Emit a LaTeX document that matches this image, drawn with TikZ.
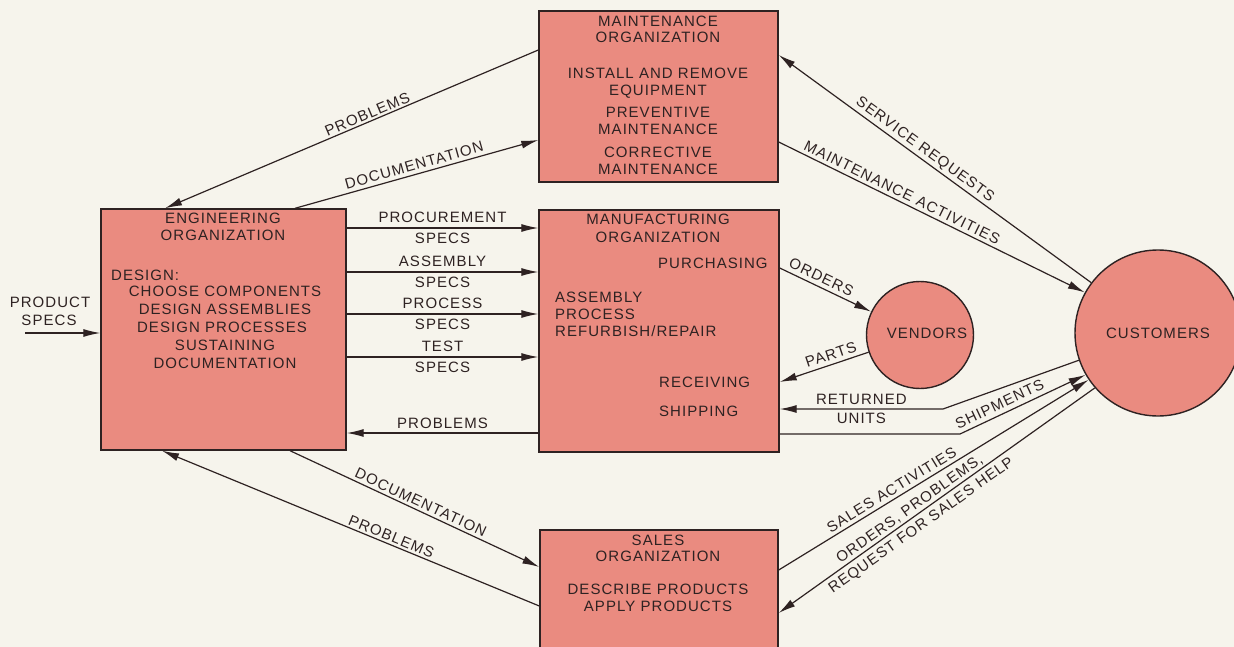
\documentclass[tikz,border=0pt]{standalone}
\usepackage{fontspec}
\setmainfont{Liberation Sans}[LetterSpace=7]
\usetikzlibrary{arrows.meta,calc}
\definecolor{bg}{HTML}{F6F4EC}
\definecolor{boxfill}{HTML}{EA8B80}
\definecolor{ink}{HTML}{2E2222}
\begin{document}
\begin{tikzpicture}[x=1pt,y=-1pt,
  box/.style={draw=ink,line width=1.4pt,fill=boxfill,inner sep=0pt},
  circ/.style={circle,draw=ink,line width=1.4pt,fill=boxfill,inner sep=0pt},
  txt/.style={text=ink,font=\fontsize{15}{18}\selectfont,inner sep=0pt,text height=10.7pt,text depth=0pt},
  lbl/.style={txt,sloped},
  arr/.style={draw=ink,line width=1.2pt,-{Latex[length=17pt,width=8pt]}},
  ln/.style={draw=ink,line width=1.2pt}]
\clip (0,0) rectangle (1234,647);
\fill[bg] (0,0) rectangle (1234,647);

% boxes
\node[box,minimum width=239pt,minimum height=171pt] (maint) at (658.5,96.5) {};
\node[box,minimum width=245pt,minimum height=241pt] (eng) at (223.5,329.5) {};
\node[box,minimum width=240pt,minimum height=242pt] (manu) at (659,331) {};
\node[box,minimum width=238pt,minimum height=150pt] (sales) at (659,605) {};
\node[circ,minimum size=107pt] (vend) at (920,335) {};
\node[circ,minimum size=166pt,txt] (cust) at (1158,333) {CUSTOMERS};

% maintenance text
\node[txt] (mt1) at (658,21) {MAINTENANCE};
\node[txt] (mt2) at (658,37) {ORGANIZATION};
\node[txt] (mt3) at (658,73) {INSTALL AND REMOVE};
\node[txt] (mt4) at (658,90) {EQUIPMENT};
\node[txt] (mt5) at (658,112) {PREVENTIVE};
\node[txt] (mt6) at (658,129) {MAINTENANCE};
\node[txt] (mt7) at (658,152) {CORRECTIVE};
\node[txt] (mt8) at (658,169) {MAINTENANCE};

% engineering text
\node[txt] (et1) at (223,218) {ENGINEERING};
\node[txt] (et2) at (223,235) {ORGANIZATION};
\node[txt,anchor=west] (et3) at (111,275) {DESIGN:};
\node[txt] (et4) at (225,291) {CHOOSE COMPONENTS};
\node[txt] (et5) at (225,309) {DESIGN ASSEMBLIES};
\node[txt] (et6) at (222,327) {DESIGN PROCESSES};
\node[txt] (et7) at (225,345) {SUSTAINING};
\node[txt] (et8) at (225,363) {DOCUMENTATION};

% manufacturing text
\node[txt] (ft1) at (658,219) {MANUFACTURING};
\node[txt] (ft2) at (658,237) {ORGANIZATION};
\node[txt,anchor=west] (ft3) at (658,263) {PURCHASING};
\node[txt,anchor=west] (ft4) at (555,297) {ASSEMBLY};
\node[txt,anchor=west] (ft5) at (555,314) {PROCESS};
\node[txt,anchor=west] (ft6) at (555,331) {REFURBISH/REPAIR};
\node[txt,anchor=west] (ft7) at (659,382) {RECEIVING};
\node[txt,anchor=west] (ft8) at (659,411) {SHIPPING};

% sales text
\node[txt] (st1) at (658,540) {SALES};
\node[txt] (st2) at (658,556) {ORGANIZATION};
\node[txt] (st3) at (658,589) {DESCRIBE PRODUCTS};
\node[txt] (st4) at (658,606) {APPLY PRODUCTS};

% vendors text
\node[txt] (vt) at (927,333) {VENDORS};

% product specs
\coordinate (ps) at (25,333);
\node[txt] (pst1) at (50,302) {PRODUCT};
\node[txt] (pst2) at (49,320) {SPECS};
\draw[arr] (ps) -- (eng.west |- ps);

% engineering <-> maintenance
\draw[arr] (maint.west |- 0,50) -- node[lbl,above=2pt,pos=0.45]{PROBLEMS} (eng.north -| 165,0);
\draw[arr] (eng.north -| 295,0) -- node[lbl,above=3.6pt,pos=0.5]{DOCUMENTATION} (maint.west |- 0,140);

% engineering -> manufacturing
\draw[arr] (eng.east |- 0,228) -- node[txt,above=4.6pt]{PROCUREMENT} node[txt,below=4.6pt]{SPECS} (manu.west |- 0,228);
\draw[arr] (eng.east |- 0,272) -- node[txt,above=4.6pt]{ASSEMBLY} node[txt,below=4.6pt]{SPECS} (manu.west |- 0,272);
\draw[arr] (eng.east |- 0,314) -- node[txt,above=4.6pt]{PROCESS} node[txt,below=4.6pt]{SPECS} (manu.west |- 0,314);
\draw[arr] (eng.east |- 0,357) -- node[txt,above=4.6pt]{TEST} node[txt,below=4.6pt]{SPECS} (manu.west |- 0,357);
\draw[arr] (manu.west |- 0,433) -- node[txt,above=3.5pt]{PROBLEMS} (eng.east |- 0,433);

% engineering <-> sales
\draw[arr] (eng.south -| 290,0) -- node[lbl,above=2.9pt,pos=0.51]{DOCUMENTATION} (sales.west |- 0,567);
\draw[arr] (sales.west |- 0,606) -- node[lbl,above=2pt,pos=0.4]{PROBLEMS} (eng.south -| 162,0);

% manufacturing <-> vendors
\draw[arr] (manu.east |- 0,268) -- node[lbl,above=4pt,pos=0.41]{ORDERS} (vend);
\draw[arr] (vend) -- node[lbl,above=4pt,pos=0.39]{PARTS} (manu.east |- 0,382);

% customers
\coordinate (rb) at (943,409);
\coordinate (sb) at (960,434);
\draw[arr] (cust.199) -- (rb) -- node[txt,above=3.7pt]{RETURNED} node[txt,below=2.7pt]{UNITS} (manu.east |- rb);
\draw[arr] (manu.east |- sb) -- (sb) -- node[lbl,above=4.6pt,pos=0.35]{SHIPMENTS} (cust.210);
\draw[arr] (sales.east |- 0,570) -- node[lbl,above=3.7pt,pos=0.38]{SALES ACTIVITIES} (cust.214);
\draw[arr] (cust.221) -- node[lbl,above=3.7pt,pos=0.57]{ORDERS, PROBLEMS,} node[lbl,below=4.4pt,pos=0.57]{REQUEST FOR SALES HELP} (sales.east |- 0,613);
\draw[arr] (cust.143) -- node[lbl,above=5pt,pos=0.55]{SERVICE REQUESTS} (maint.east |- 0,55);
\draw[arr] (maint.east |- 0,142) -- node[lbl,above=3.5pt,pos=0.39]{MAINTENANCE ACTIVITIES} (cust.151);
\end{tikzpicture}
\end{document}
